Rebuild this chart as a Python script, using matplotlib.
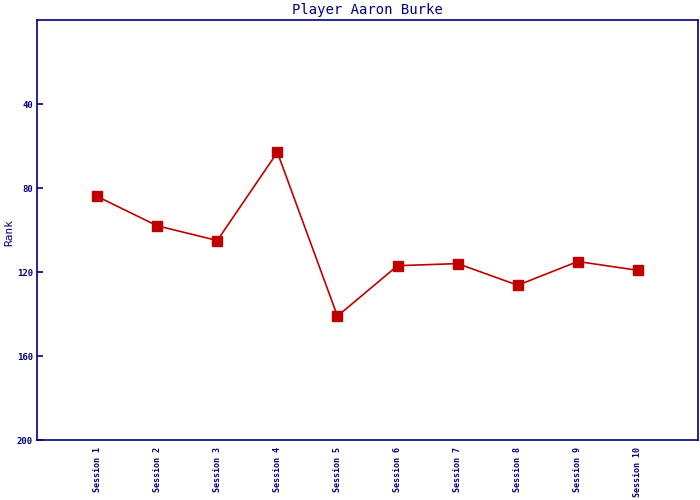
import matplotlib
matplotlib.use("Agg")
import matplotlib.pyplot as plt

# --- data ---
sessions = ["Session 1", "Session 2", "Session 3", "Session 4", "Session 5",
            "Session 6", "Session 7", "Session 8", "Session 9", "Session 10"]
ranks = [84, 98, 105, 63, 141, 117, 116, 126.3, 115, 119.2]
y_ticks = [40, 80, 120, 160, 200]

NAVY = "#000080"
RED = "#C00000"

plt.rcParams['font.family'] = ['DejaVu Sans Mono']

fig = plt.figure(figsize=(7, 5), dpi=100)
ax = fig.add_axes([37 / 700, 60 / 500, 661 / 700, 420 / 500])

x = list(range(len(sessions)))
ax.plot(x, ranks, color=RED, linewidth=1.2, marker="s", markersize=6.5,
        markerfacecolor=RED, markeredgecolor=RED)

ax.set_xlim(-1, len(sessions))
ax.set_ylim(200, 0)
ax.set_yticks(y_ticks)
ax.set_yticklabels([str(t) for t in y_ticks], fontsize=6.5, color=NAVY, fontweight="bold")
ax.set_xticks(x)
ax.set_xticklabels(sessions, rotation=90, fontsize=6, color=NAVY, fontweight="bold")
ax.tick_params(axis="y", direction="in", length=4, width=1.2, color=NAVY, pad=3)
ax.tick_params(axis="x", length=0, pad=5)

for s in ax.spines.values():
    s.set_color(NAVY)
    s.set_linewidth(1.2)

ax.set_ylabel("Rank", fontsize=8, color=NAVY)
ax.yaxis.set_label_coords(-23 / 661, 0.495)
ax.set_title("Player Aaron Burke", fontsize=10, color=NAVY, pad=4)

fig.savefig("out.png", dpi=100)
